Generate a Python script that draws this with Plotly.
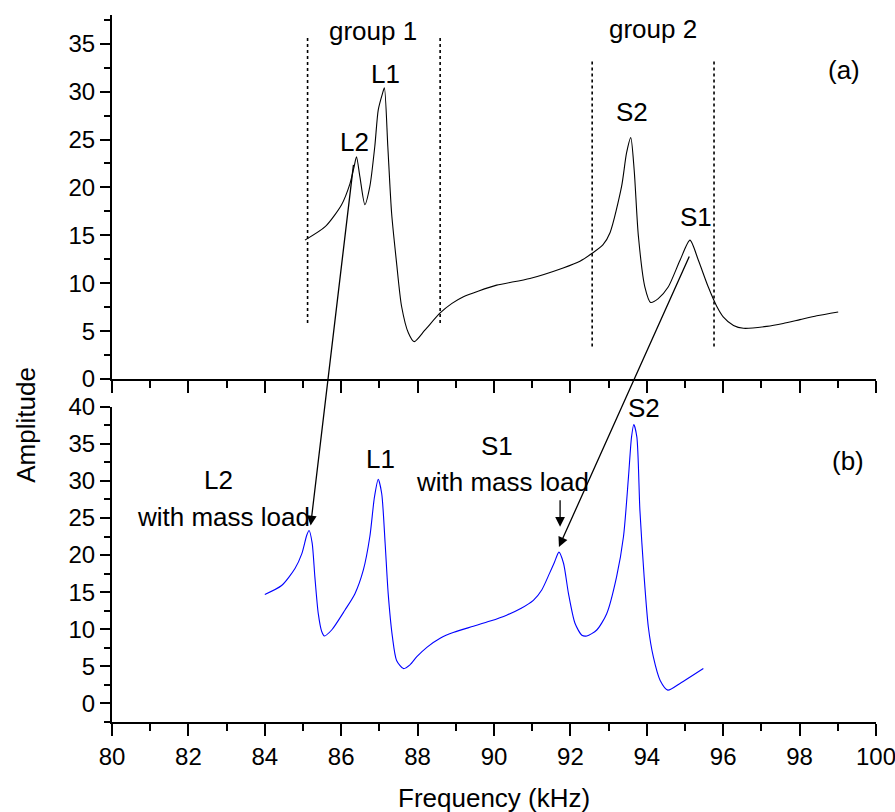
import plotly.graph_objects as go

# ---- data ----
freq_a = [85.05, 85.58, 86.01, 86.23, 86.34, 86.40, 86.49, 86.62, 86.75, 86.88, 86.97, 87.08, 87.13,
          87.22, 87.32, 87.45, 87.58, 87.76, 87.91, 88.19, 88.59, 88.9, 89.2, 89.6, 90.07, 90.94, 91.81,
          92.25, 92.56, 92.85, 93.04, 93.34, 93.47, 93.58, 93.67, 93.78, 93.95, 94.10, 94.30, 94.56,
          94.87, 95.13, 95.35, 95.61, 95.83, 96.00, 96.27, 96.53, 97.14, 97.57, 98.01, 98.45, 99.01]
amp_a = [14.5, 15.9, 18.2, 20.4, 22.2, 23.2, 21.1, 18.2, 20.1, 24.3, 28.1, 29.8, 30.4,
         24.3, 17.3, 12.1, 7.6, 4.8, 3.9, 5.1, 6.9, 7.9, 8.6, 9.2, 9.8, 10.5, 11.6,
         12.3, 13.1, 14.0, 15.3, 20.1, 23.6, 25.2, 21.8, 14.9, 9.6, 8.0, 8.4, 9.6,
         12.4, 14.5, 12.4, 9.6, 7.6, 6.5, 5.6, 5.3, 5.5, 5.8, 6.2, 6.6, 7.0]

freq_b = [84.0, 84.44, 84.79, 84.97, 85.10, 85.16, 85.24, 85.31, 85.40, 85.49, 85.56, 85.75, 86.10,
          86.36, 86.58, 86.75, 86.87, 86.97, 87.06, 87.15, 87.23, 87.34, 87.45, 87.63, 87.80, 87.98,
          88.25, 88.59, 88.95, 89.46, 89.9, 90.33, 90.7, 91.03, 91.25, 91.45, 91.58, 91.70, 91.82,
          91.95, 92.12, 92.30, 92.43, 92.69, 92.95, 93.21, 93.39, 93.52, 93.60, 93.66, 93.74, 93.82,
          93.93, 94.04, 94.17, 94.35, 94.55, 94.87, 95.48]
amp_b = [14.7, 15.9, 18.2, 20.2, 22.7, 23.3, 21.6, 17.1, 12.1, 9.7, 9.1, 9.9, 12.6,
         14.8, 18.0, 22.5, 27.8, 30.2, 28.3, 21.6, 14.8, 9.0, 5.8, 4.7, 5.2, 6.3,
         7.6, 8.8, 9.6, 10.4, 11.1, 11.9, 12.8, 13.9, 15.3, 17.5, 19.0, 20.4, 18.9,
         14.8, 10.8, 9.2, 9.1, 9.9, 12.1, 17.1, 22.5, 30.5, 35.9, 37.6, 35.9, 26.0,
         17.1, 10.3, 6.3, 3.1, 1.8, 2.7, 4.7]

group_edges = [85.12, 88.59, 92.57, 95.76]
group_y0 = [5.85, 5.85, 3.4, 3.4]
group_y1 = [35.8, 35.8, 33.3, 33.3]

x_ticks = [80, 82, 84, 86, 88, 90, 92, 94, 96, 98, 100]
ya_ticks = [0, 5, 10, 15, 20, 25, 30, 35]
yb_ticks = [0, 5, 10, 15, 20, 25, 30, 35, 40]

FONT = "Arial, Liberation Sans, sans-serif"
TICKF = dict(family=FONT, size=24, color="black")
LABF = dict(family=FONT, size=26, color="black")

fig = go.Figure()
fig.add_trace(go.Scatter(x=freq_a, y=amp_a, mode="lines",
                         line=dict(color="black", width=1.1, shape="spline", smoothing=0.7),
                         xaxis="x", yaxis="y", showlegend=False))
fig.add_trace(go.Scatter(x=freq_b, y=amp_b, mode="lines",
                         line=dict(color="#0000ff", width=1.1, shape="spline", smoothing=0.7),
                         xaxis="x2", yaxis="y2", showlegend=False))

for xe, y0, y1 in zip(group_edges, group_y0, group_y1):
    fig.add_trace(go.Scatter(x=[xe, xe], y=[y0, y1], mode="lines",
                             line=dict(color="black", width=1.6, dash="dot"),
                             xaxis="x", yaxis="y", showlegend=False))

axis_common = dict(showline=True, linecolor="black", linewidth=2, ticks="outside",
                   tickcolor="black", tickwidth=2, showgrid=False, zeroline=False,
                   tickfont=TICKF, mirror=False, automargin=False, ticklabeloverflow="allow")
minor_x = dict(dtick=1, tick0=80, ticklen=7, tickwidth=2, tickcolor="black", ticks="outside", showgrid=False)
minor_y = dict(dtick=2.5, tick0=0, ticklen=6, tickwidth=2, tickcolor="black", ticks="outside", showgrid=False)

fig.update_layout(
    template="none",
    width=895, height=812,
    margin=dict(l=112, r=19, t=15, b=90, autoexpand=False),
    plot_bgcolor="white", paper_bgcolor="white",
    xaxis=dict(range=[80, 100], domain=[0, 1], anchor="y", tickvals=x_ticks,
               showticklabels=False, ticklen=12, minor=minor_x, **axis_common),
    yaxis=dict(range=[0, 38], domain=[0.4851, 1], anchor="x", tickvals=ya_ticks, ticklen=10,
               minor=minor_y, **axis_common),
    xaxis2=dict(range=[80, 100], domain=[0, 1], anchor="y2", tickvals=x_ticks, ticklen=12,
                minor=minor_x, **axis_common),
    yaxis2=dict(range=[-2.5, 40], domain=[0, 0.446], anchor="x2", tickvals=yb_ticks, ticklen=10,
                minor=minor_y, **axis_common),
)

# text labels
labels_a = [("group 1", 86.83, 36.3), ("group 2", 94.16, 36.5), ("L1", 87.15, 31.8), ("L2", 86.35, 24.7),
            ("S2", 93.62, 27.85), ("S1", 95.28, 16.9), ("(a)", 99.16, 32.3)]
labels_b = [("L2", 82.80, 30.1), ("with mass load", 82.91, 25.15), ("L1", 87.03, 32.9),
            ("S1", 90.09, 34.7), ("with mass load", 90.23, 29.8), ("S2", 93.92, 39.8), ("(b)", 99.27, 32.7)]
for t, x, y in labels_a:
    fig.add_annotation(text=t, x=x, y=y, xref="x", yref="y", showarrow=False, font=LABF,
                       xanchor="center", yanchor="middle")
for t, x, y in labels_b:
    fig.add_annotation(text=t, x=x, y=y, xref="x2", yref="y2", showarrow=False, font=LABF,
                       xanchor="center", yanchor="middle")

# arrows (tips in panel-b data, tails offset in pixels)
arrows = [(85.20, 24.0, 43, -362), (91.70, 21.1, 131, -292), (91.73, 23.8, 0, -28)]
for x, y, ax, ay in arrows:
    fig.add_annotation(text="", x=x, y=y, xref="x2", yref="y2", ax=ax, ay=ay, showarrow=True,
                       arrowhead=2, arrowsize=1.5, arrowwidth=1.3, arrowcolor="black", standoff=0)

fig.add_annotation(text="Amplitude", x=-0.113, y=0.42, xref="paper", yref="paper", textangle=-90,
                   showarrow=False, font=LABF, xanchor="center", yanchor="middle")
fig.add_annotation(text="Frequency (kHz)", x=0.5, y=-0.1075, xref="paper", yref="paper",
                   showarrow=False, font=LABF, xanchor="center", yanchor="middle")

fig.write_html("out.html")
